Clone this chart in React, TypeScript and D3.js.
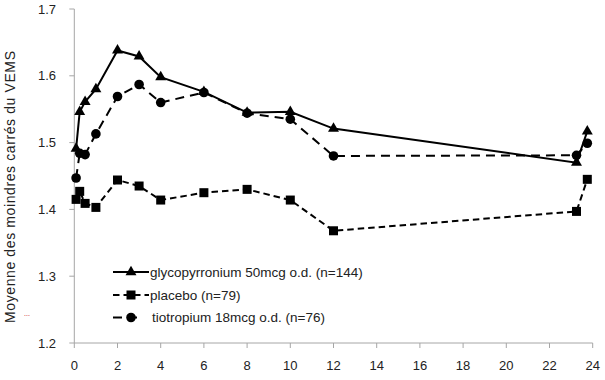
import React from "react";
import * as d3 from "d3";

const hours = [0.083, 0.25, 0.5, 1, 2, 3, 4, 6, 8, 10, 12, 23.25, 23.75];
const glyco = [1.491, 1.546, 1.561, 1.58, 1.638, 1.629, 1.598, 1.576, 1.545, 1.546, 1.521, 1.47, 1.517];
const placebo = [1.415, 1.427, 1.409, 1.403, 1.444, 1.435, 1.414, 1.425, 1.43, 1.414, 1.368, 1.397, 1.445];
const tiotropium = [1.447, 1.484, 1.482, 1.513, 1.569, 1.587, 1.56, 1.575, 1.544, 1.535, 1.48, 1.481, 1.499];
const seriesNames = [
  "glycopyrronium 50mcg o.d. (n=144)",
  "placebo (n=79)",
  "tiotropium 18mcg o.d. (n=76)",
];
const xTicks = [0, 2, 4, 6, 8, 10, 12, 14, 16, 18, 20, 22, 24];
const yTicks = [1.2, 1.3, 1.4, 1.5, 1.6, 1.7];
const yLabel = "Moyenne des moindres carrés du VEMS";

const W = 605;
const H = 380;
const FONT = "'Liberation Sans', Arial, sans-serif";

function Marker({ kind, x, y }: { kind: string; x: number; y: number }) {
  if (kind === "tri") {
    const s = d3.symbol(d3.symbolTriangle, 52)();
    return <path d={s || ""} transform={`translate(${x},${y})`} fill="#000" />;
  }
  if (kind === "sq") {
    return <rect x={x - 4.5} y={y - 4.5} width={9} height={9} fill="#000" />;
  }
  return <circle cx={x} cy={y} r={4.8} fill="#000" />;
}

export default function App() {
  const x = d3.scaleLinear().domain([0, 24]).range([74.3, 592.7]);
  const y = d3.scaleLinear().domain([1.2, 1.7]).range([343, 9]);
  const line = d3
    .line<[number, number]>()
    .x((d) => x(d[0]))
    .y((d) => y(d[1]));

  const series = [
    { name: seriesNames[0], vals: glyco, dash: "none", marker: "tri" },
    { name: seriesNames[1], vals: placebo, dash: "6.5,4", marker: "sq" },
    { name: seriesNames[2], vals: tiotropium, dash: "9,6", marker: "circ" },
  ];
  const drawOrder = [1, 2, 0];

  return (
    <svg
      width={W}
      height={H}
      style={{ position: "absolute", left: 0, top: 0, background: "#fff" }}
      fontFamily={FONT}
    >
      <rect width={W} height={H} fill="#fff" />
      {/* axes */}
      <line x1={x(0)} x2={x(0)} y1={y(1.7)} y2={y(1.2)} stroke="#a6a6a6" strokeWidth={1} />
      <line x1={x(0)} x2={x(24)} y1={y(1.2)} y2={y(1.2)} stroke="#a6a6a6" strokeWidth={1} />
      {yTicks.map((t) => (
        <g key={"y" + t}>
          <line x1={x(0) - 5} x2={x(0)} y1={y(t)} y2={y(t)} stroke="#a6a6a6" />
          <text x={56} y={y(t)} dy="0.36em" textAnchor="end" fontSize={13} fill="#222">
            {t.toFixed(1)}
          </text>
        </g>
      ))}
      {xTicks.map((t) => (
        <g key={"x" + t}>
          <line x1={x(t)} x2={x(t)} y1={y(1.2)} y2={y(1.2) + 5} stroke="#a6a6a6" />
          <text x={x(t)} y={370} textAnchor="middle" fontSize={13} fill="#222">
            {t}
          </text>
        </g>
      ))}
      <text
        transform={`translate(15,187) rotate(-90)`}
        textAnchor="middle"
        fontSize={14}
        textLength={272}
        lengthAdjust="spacing"
        fill="#222"
      >
        {yLabel}
      </text>
      <text x={27} y={316} fontSize={7} fill="#c00000" textAnchor="middle">
        ...
      </text>
      {/* series */}
      {drawOrder.map((i) => {
        const s = series[i];
        const pts: [number, number][] = hours.map((h, k) => [h, s.vals[k]]);
        return (
          <g key={s.name}>
            <path
              d={line(pts) || ""}
              fill="none"
              stroke="#000"
              strokeWidth={2}
              strokeDasharray={s.dash}
            />
            {pts.map((p, k) => (
              <Marker key={k} kind={s.marker} x={x(p[0])} y={y(p[1])} />
            ))}
          </g>
        );
      })}
      {/* legend */}
      {series.map((s, i) => {
        const ly = [272, 295, 317.5][i];
        return (
          <g key={"lg" + i}>
            <line
              x1={113}
              x2={i === 2 ? 140 : 149}
              y1={ly}
              y2={ly}
              stroke="#000"
              strokeWidth={2}
              strokeDasharray={s.dash}
            />
            <Marker kind={s.marker} x={131} y={ly} />
            <text x={i === 2 ? 152 : 150} y={ly} dy="0.36em" fontSize={13.5} fill="#222">
              {s.name}
            </text>
          </g>
        );
      })}
    </svg>
  );
}
